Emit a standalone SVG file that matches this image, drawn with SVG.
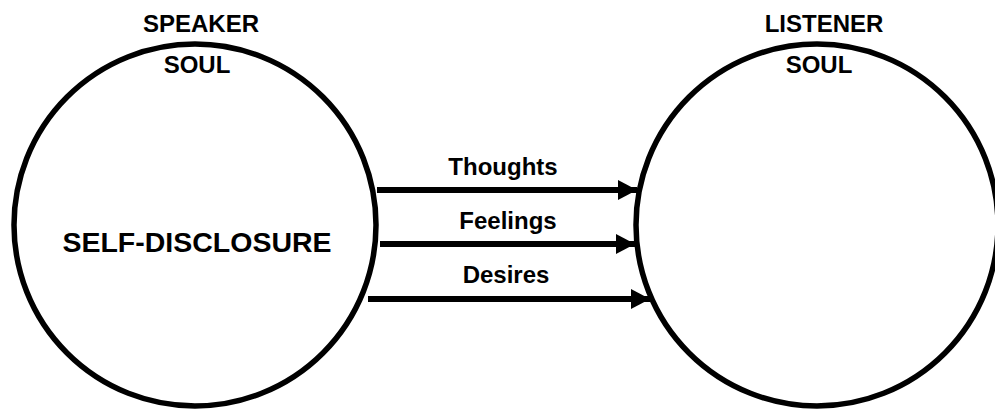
<svg xmlns="http://www.w3.org/2000/svg" width="995" height="412" viewBox="0 0 995 412">
<defs>
<style>
.soul{fill:none;stroke:#000;stroke-width:5.5}
.t{font-family:"Liberation Sans",Arial,sans-serif;font-weight:bold;font-size:24px;fill:#000;text-anchor:middle}
.big{font-size:28.5px}
.conn{stroke:#000;stroke-width:6;fill:none}
</style>
<marker id="ah" markerUnits="userSpaceOnUse" viewBox="0 0 19 20" refX="19" refY="10" markerWidth="19" markerHeight="20" orient="auto">
<polygon points="0,0 19,10 0,20" fill="#000"/>
</marker>
</defs>
<rect width="995" height="412" fill="#fff"/>
<g id="speaker">
<circle class="soul" cx="195" cy="225" r="181"/>
<text class="t" x="201" y="32">SPEAKER</text>
<text class="t" x="197" y="73">SOUL</text>
<text class="t big" x="197" y="252">SELF-DISCLOSURE</text>
</g>
<g id="listener">
<circle class="soul" cx="817" cy="225" r="181"/>
<text class="t" x="824" y="32">LISTENER</text>
<text class="t" x="819" y="73">SOUL</text>
</g>
<g id="connectors">
<path class="conn" d="M377,190 H637" marker-end="url(#ah)"/>
<path class="conn" d="M380,244 H635" marker-end="url(#ah)"/>
<path class="conn" d="M368,299 H650" marker-end="url(#ah)"/>
<text class="t" x="503" y="175">Thoughts</text>
<text class="t" x="508" y="229">Feelings</text>
<text class="t" x="506" y="283">Desires</text>
</g>
</svg>
